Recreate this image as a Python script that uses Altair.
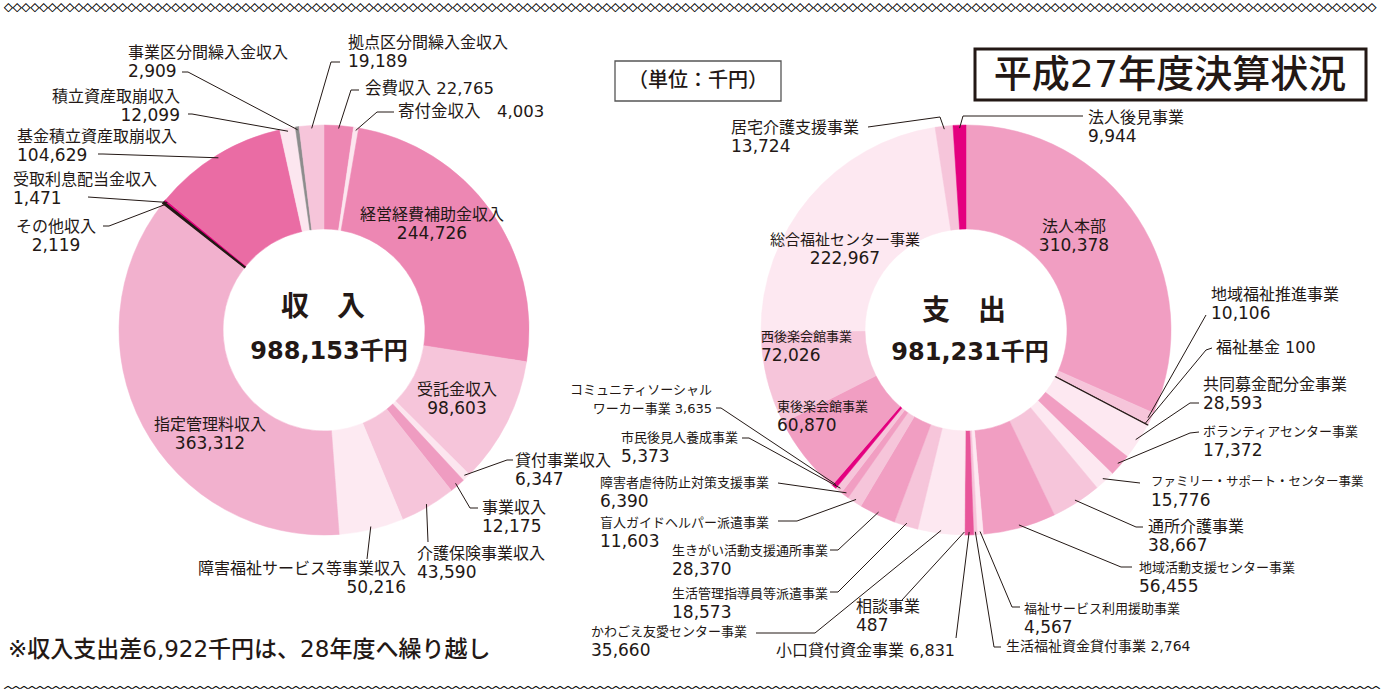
import altair as alt
import pandas as pd

W, H = 1381, 690
FONT = "DejaVu Sans, Noto Sans CJK JP"
JP = "Noto Sans CJK JP"
INK = "#231815"

# ---------------- data: income (clockwise from 12 o'clock) ----------------
inc_names = ["会費収入", "寄付金収入", "経営経費補助金収入", "受託金収入", "貸付事業収入",
             "事業収入", "介護保険事業収入", "障害福祉サービス等事業収入", "指定管理料収入",
             "その他収入", "受取利息配当金収入", "基金積立資産取崩収入", "積立資産取崩収入",
             "事業区分間繰入金収入", "拠点区分間繰入金収入"]
inc_values = [22765, 4003, 244726, 98603, 6347, 12175, 43590, 50216, 363312,
              2119, 1471, 104629, 12099, 2909, 19189]
inc_colors = ["#ED87B3", "#FCE6EF", "#ED87B3", "#F6C5DA", "#FCE6EF", "#EF9CC1", "#F6C5DA",
              "#FDEAF2", "#F2B1CE", "#231815", "#E4007F", "#EA6CA4", "#FCE6EF", "#8C8C8C",
              "#F6C5DA"]

# ---------------- data: expenditure (clockwise from 12 o'clock) ----------------
exp_names = ["法人本部", "地域福祉推進事業", "福祉基金", "共同募金配分金事業",
             "ボランティアセンター事業", "ファミリー・サポート・センター事業", "通所介護事業",
             "地域活動支援センター事業", "福祉サービス利用援助事業", "生活福祉資金貸付事業",
             "小口貸付資金事業", "相談事業", "かわごえ友愛センター事業", "生活管理指導員等派遣事業",
             "生きがい活動支援通所事業", "盲人ガイドヘルパー派遣事業", "障害者虐待防止対策支援事業",
             "市民後見人養成事業", "コミュニティソーシャル\nワーカー事業", "東後楽会館事業",
             "西後楽会館事業", "総合福祉センター事業", "居宅介護支援事業", "法人後見事業"]
exp_values = [310378, 10106, 100, 28593, 17372, 15776, 38667, 56455, 4567, 2764, 6831, 487,
              35660, 18573, 28370, 11603, 6390, 5373, 3635, 60870, 72026, 222967, 13724, 9944]
exp_colors = ["#F19EC2", "#F6C5DA", "#231815", "#FDE8F1", "#F19EC2", "#FDE8F1", "#F6C5DA",
              "#F19EC2", "#FDE8F1", "#F6C5DA", "#E8559A", "#F6C5DA", "#FDE8F1", "#F6C5DA",
              "#F19EC2", "#F6C5DA", "#F19EC2", "#F6C5DA", "#E4007F", "#F19EC2", "#F6C5DA",
              "#FDE8F1", "#F6C5DA", "#E4007F"]

# ---------------- layout (label placement) ----------------
CENTERS = {"inc": (324, 330), "exp": (966, 330)}
R_OUT, R_IN = 205, 101
LH = 19

inc_sep = [" ", "\u3000", "\n", "\n", "\n", "\n", "\n", "\n", "\n", "\n", "\n", "\n", "\n", "\n", "\n"]
inc_lab_x = [365, 398, 432, 457, 515, 482, 417, 406, 210, 56, 13, 17, 180, 128, 348]
inc_lab_y = [89, 112, 215, 390, 461, 508, 554, 569, 425, 227, 180, 137, 97, 53, 43]
inc_align = ["left", "left", "center", "center", "left", "left", "left", "right", "center",
             "center", "left", "left", "right", "left", "left"]
inc_size = [16.5, 16.5, 16, 16, 16, 16, 16, 16, 16, 16, 16, 16, 16, 16, 16]
inc_lead = [(359, 90, 351, 90), (394, 112, 377, 112), None, None, (513, 460, 507, 460),
            (478, 508, 470, 508), (428, 542, 428, 542), (367, 559, 367, 559), None,
            (103, 226, 109, 226), (88, 197, 88, 197), (98, 154, 103, 154),
            (188, 114, 192, 114), (182, 72, 188, 72), (340, 62, 331, 62)]

exp_sep = ["\n", "\n", " ", "\n", "\n", "\n", "\n", "\n", "\n", " ", " ", "\n", "\n", "\n",
           "\n", "\n", "\n", "\n", " ", "\n", "\n", "\n", "\n", "\n"]
exp_lab_x = [1074, 1211, 1216, 1203, 1203, 1151, 1148, 1139, 1024, 1006, 955, 856, 591, 672,
             672, 600, 600, 621, 712, 777, 761, 845, 731, 1088]
exp_lab_y = [227, 295, 348, 385, 432, 482, 527, 568, 609, 647, 651, 607, 632, 594, 551, 523,
             483, 438, 390, 407, 337, 240, 128, 118]
exp_align = ["center", "left", "left", "left", "left", "left", "left", "left", "left", "left",
             "right", "left", "left", "left", "left", "left", "left", "left", "right", "left",
             "left", "center", "left", "left"]
exp_size = [16, 16, 16, 16, 13, 12.5, 16, 13, 13, 14, 16, 16, 13, 13, 13, 13, 13, 13, 13, 13,
            13, 15, 16, 16]
exp_lead = [None, (1206, 315, 1206, 315), (1212, 348, 1206, 350), (1199, 403, 1190, 403),
            (1199, 432, 1190, 433), (1140, 483, 1140, 483), (1143, 527, 1136, 527),
            (1132, 567, 1121, 567), (1020, 607, 1012, 607), (1001, 647, 994, 647),
            (956, 638, 956, 638), (902, 600, 902, 600), (756, 633, 815, 633),
            (830, 592, 838, 592), (830, 550, 838, 550), (778, 521, 797, 521),
            (778, 483, 778, 483), (742, 438, 749, 438), (716, 408, 721, 408), None, None, None,
            (868, 127, 940, 117), (1083, 116, 963, 116)]

inc_total = sum(inc_values)
exp_total = sum(exp_values)

# ---------------- tables built from the lists ----------------
slice_rows, text_rows = [], []
for donut, names, values, colors, seps, lxs, lys, aligns, sizes, leads in [
    ("inc", inc_names, inc_values, inc_colors, inc_sep, inc_lab_x, inc_lab_y, inc_align, inc_size, inc_lead),
    ("exp", exp_names, exp_values, exp_colors, exp_sep, exp_lab_x, exp_lab_y, exp_align, exp_size, exp_lead),
]:
    cx, cy = CENTERS[donut]
    for i, name in enumerate(names):
        ld = leads[i]
        slice_rows.append(dict(
            donut=donut, order=i, name=name, value=values[i], color=colors[i],
            dark=colors[i] == "#231815",
            sw=1.3 if colors[i] == "#231815" else 0.5, cx=cx, cy=cy,
            sx=ld[0] if ld else None, sy=ld[1] if ld else None,
            ex=ld[2] if ld else None, ey=ld[3] if ld else None))
        full = name + seps[i] + f"{values[i]:,}"
        for k, line in enumerate(full.split("\n")):
            numeric = line.replace(",", "").isdigit()
            text_rows.append(dict(text=line, x=lxs[i], y=lys[i] + k * LH, align=aligns[i],
                                  size=17 if numeric else sizes[i]))

slices = pd.DataFrame(slice_rows)
texts = pd.DataFrame(text_rows)

center_text = pd.DataFrame([
    dict(text="収\u3000入", x=323, y=308, size=28),
    dict(text=f"{inc_total:,}千円", x=329, y=352, size=24),
    dict(text="支\u3000出", x=964, y=312, size=28),
    dict(text=f"{exp_total:,}千円", x=970, y=353, size=24),
])

boxes = pd.DataFrame([
    dict(x=975, x2=1366, y=49, y2=100, sw=3.0, c=INK),
    dict(x=615, x2=781, y=61, y2=101, sw=1.3, c="#555555"),
])
misc_text = pd.DataFrame([
    dict(text="平成27年度決算状況", x=1170, y=76, size=38, align="center"),
    dict(text="（単位：千円）", x=698, y=81, size=20, align="center"),
    dict(text=f"※収入支出差{inc_total - exp_total:,}千円は、28年度へ繰り越し", x=8, y=650, size=23, align="left"),
])
border_text = pd.DataFrame([
    dict(text="◇" * 156, x=4, y=8, size=8.8),
    dict(text="︿" * 172, x=4, y=686, size=8),
])


def X(f):
    return alt.X(f, type="quantitative", axis=None,
                 scale=alt.Scale(domain=[0, W], range=[0, W], nice=False, zero=False))


def Y(f):
    return alt.Y(f, type="quantitative", axis=None,
                 scale=alt.Scale(domain=[0, H], range=[0, H], nice=False, zero=False))


base = alt.Chart(slices).transform_window(
    cum="sum(value)", groupby=["donut"], sort=[alt.SortField("order", order="ascending")],
    frame=[None, 0]
).transform_joinaggregate(
    total="sum(value)", groupby=["donut"]
).transform_calculate(
    a0="2*PI*(datum.cum - datum.value)/datum.total",
    a1="2*PI*datum.cum/datum.total",
).transform_calculate(
    am="(datum.a0 + datum.a1)/2"
).transform_calculate(
    px=f"datum.cx + {R_OUT - 3}*sin(datum.am)",
    py=f"datum.cy - {R_OUT - 3}*cos(datum.am)",
    ix=f"datum.cx + {R_IN}*sin(datum.am)",
    iy=f"datum.cy - {R_IN}*cos(datum.am)",
    ox=f"datum.cx + {R_OUT}*sin(datum.am)",
    oy=f"datum.cy - {R_OUT}*cos(datum.am)",
)

arcs = base.mark_arc(outerRadius=R_OUT, innerRadius=R_IN).encode(
    theta=alt.Theta("a0:Q", scale=None, stack=False),
    theta2=alt.Theta2("a1:Q"),
    x=X("cx"), y=Y("cy"),
    fill=alt.Fill("color:N", scale=None),
    stroke=alt.Stroke("color:N", scale=None),
    strokeWidth=alt.StrokeWidth("sw:Q", scale=None),
)

# dark hairline slices drawn as a radial line so that they stay visible
radial = base.transform_filter("datum.dark").mark_rule(color=INK, strokeWidth=1.3).encode(
    x=X("ix"), y=Y("iy"), x2=alt.X2("ox:Q"), y2=alt.Y2("oy:Q"))

leads = base.transform_filter("isValid(datum.sx)")
stubs = leads.mark_rule(color=INK, strokeWidth=1).encode(
    x=X("sx"), y=Y("sy"), x2=alt.X2("ex:Q"), y2=alt.Y2("ey:Q"))
diags = leads.mark_rule(color=INK, strokeWidth=1).encode(
    x=X("ex"), y=Y("ey"), x2=alt.X2("px:Q"), y2=alt.Y2("py:Q"))

label_layers = []
for al in ["left", "center", "right"]:
    label_layers.append(
        alt.Chart(texts).transform_filter(f"datum.align == '{al}'").mark_text(
            font=FONT, align=al, baseline="middle", color=INK
        ).encode(x=X("x"), y=Y("y"), text="text:N", size=alt.Size("size:Q", scale=None))
    )

centers = alt.Chart(center_text).mark_text(
    font=FONT, fontWeight="bold", align="center", baseline="middle", color=INK
).encode(x=X("x"), y=Y("y"), text="text:N", size=alt.Size("size:Q", scale=None))

box_marks = alt.Chart(boxes).mark_rect(fill="white").encode(
    x=X("x"), x2=alt.X2("x2:Q"), y=Y("y"), y2=alt.Y2("y2:Q"),
    stroke=alt.Stroke("c:N", scale=None), strokeWidth=alt.StrokeWidth("sw:Q", scale=None))

misc_layers = []
for al in ["left", "center"]:
    misc_layers.append(
        alt.Chart(misc_text).transform_filter(f"datum.align == '{al}'").mark_text(
            font=FONT, fontWeight=500, align=al, baseline="middle", color=INK
        ).encode(x=X("x"), y=Y("y"), text="text:N", size=alt.Size("size:Q", scale=None))
    )

borders = alt.Chart(border_text).mark_text(
    font=JP, align="left", baseline="middle", color="#111111", stroke="#111111", strokeWidth=0.45
).encode(x=X("x"), y=Y("y"), text="text:N", size=alt.Size("size:Q", scale=None))

chart = alt.layer(
    arcs, radial, stubs, diags, *label_layers, centers, box_marks, *misc_layers, borders
).properties(
    width=W, height=H, padding=0, autosize=alt.AutoSizeParams(type="none"), background="white"
).configure_view(stroke=None)

chart.save("out.html", embed_options={"renderer": "svg", "actions": False})
